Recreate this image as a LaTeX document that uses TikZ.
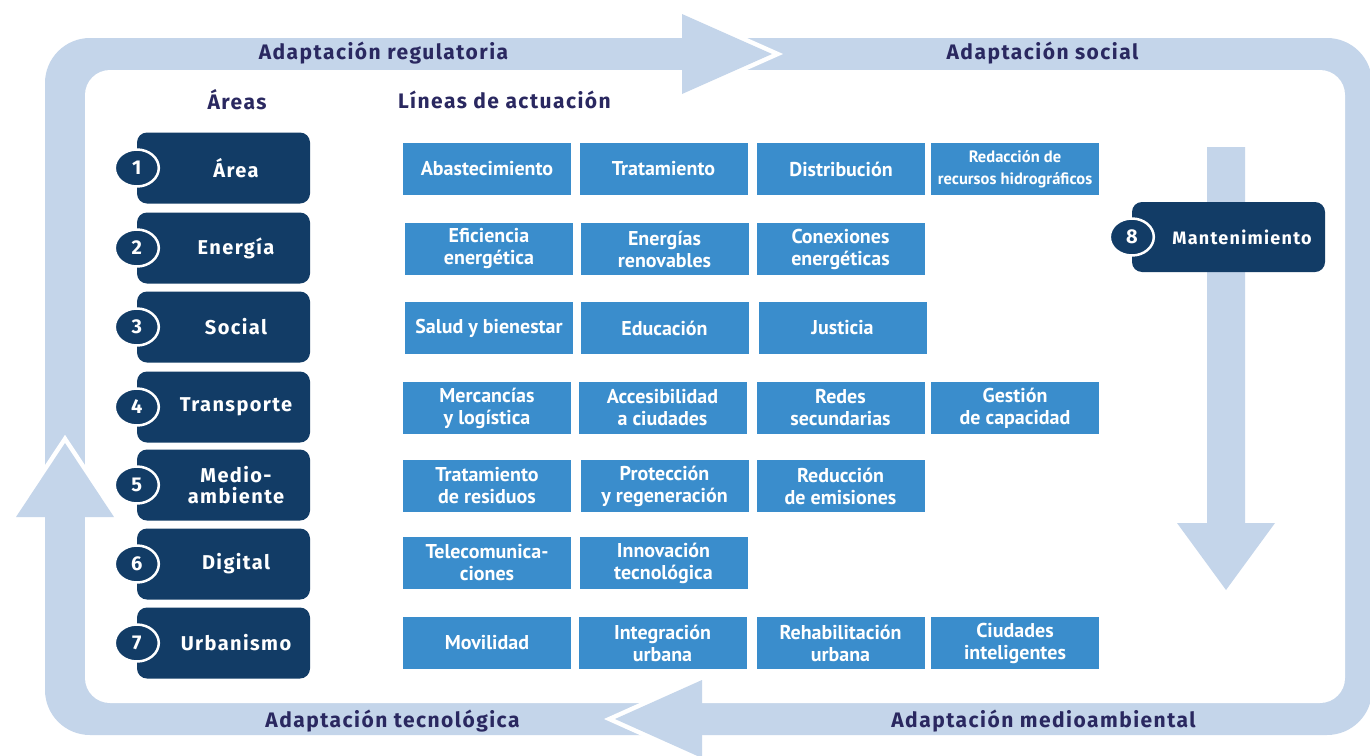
\documentclass[tikz,border=0pt]{standalone}
\usepackage{fontspec}
\usepackage{graphicx}
\setmainfont{Fira Sans}
\newfontfamily\hfont[LetterSpace=7]{Fira Sans}
\newfontfamily\bfont{PT Sans}
\usetikzlibrary{shapes.geometric}
\definecolor{band}{HTML}{C4D5EA}
\definecolor{navy}{HTML}{123C66}
\definecolor{mid}{HTML}{3A8DCC}
\definecolor{ink}{HTML}{2A2860}
\begin{document}
\begin{tikzpicture}[x=1pt,y=-1pt,
  head/.style={text=ink, font=\hfont\bfseries\fontsize{21}{24}\selectfont, inner sep=0pt},
  areabox/.style={fill=navy, rounded corners=10pt, minimum width=173pt, minimum height=71pt, inner sep=0pt},
  areatext/.style={text=white, font=\hfont\bfseries\fontsize{20}{21}\selectfont, align=center, inner sep=0pt},
  numcirc/.style={ellipse, fill=navy, draw=white, line width=2.5pt, minimum width=44pt, minimum height=37pt, inner sep=0pt, text=white, font=\bfseries\fontsize{20}{20}\selectfont},
  linebox/.style={fill=mid, minimum width=168pt, minimum height=52pt, inner sep=0pt, text=white, align=center, font=\bfont\bfseries\fontsize{20}{22}\selectfont},
  gap/.style={white, line width=9pt, line join=miter},
  arrowfill/.style={fill=band}
]
\useasboundingbox (0,0) rectangle (1370,755);
\clip (0,0) rectangle (1370,755);
\fill[white] (0,0) rectangle (1370,755);

% frame band
\fill[band, rounded corners=45pt] (45,38) rectangle (1372,735);
\fill[white, rounded corners=25pt] (85,70) rectangle (1345,703);

% top arrow (right)
\draw[gap] (682,14) -- (772,54) -- (682,94);
\fill[arrowfill] (682,14) -- (772,54) -- (682,94) -- cycle;
% bottom arrow (left)
\draw[gap] (702,680) -- (615,719) -- (702,758);
\fill[arrowfill] (702,680) -- (615,719) -- (702,758) -- cycle;
% left arrow (up)
\draw[gap] (16,517) -- (65,443) -- (114,517);
\fill[arrowfill] (16,517) -- (65,443) -- (114,517) -- cycle;
% inner down arrow
\fill[arrowfill] (1207,147) -- (1245,147) -- (1245,523) -- (1275,523) -- (1226,590) -- (1177,523) -- (1207,523) -- cycle;

% headings
\node[head] (h1) at (383.5,53) {Adaptación regulatoria};
\node[head] (h2) at (1042.5,53) {Adaptación social};
\node[head] (h3) at (392.5,721) {Adaptación tecnológica};
\node[head] (h4) at (1043.5,721) {Adaptación medioambiental};
\node[head] (h5) at (237,100) {Áreas};
\node[head] (h6) at (504.5,100) {Líneas de actuación};

% area boxes
\foreach \i/\y/\t in {1/168/Área, 2/248/Energía, 3/327/Social, 4/407/Transporte, 5/485/{Medio-\\ambiente}, 6/564/Digital, 7/643/Urbanismo}{
  \node[areabox] (a\i) at (223.5,\y) {};
  \node[areatext] (at\i) at (236,\y) {\t};
  \node[numcirc] (n\i) at (a\i.west) {\i};
}

% Mantenimiento
\node[areabox, minimum width=193pt, minimum height=70pt] (a8) at (1228.5,237) {};
\node[areatext, font=\hfont\bfseries\fontsize{18}{18}\selectfont] (at8) at (1242,237) {Mantenimiento};
\node[numcirc] (n8) at (a8.west) {8};

% lines of action
\node[linebox] (b11) at (487,169) {Abastecimiento};
\node[linebox] (b12) at (663.5,169) {Tratamiento};
\node[linebox] (b13) at (841,169) {Distribución};
\node[linebox, font=\bfont\bfseries\fontsize{16.5}{22}\selectfont] (b14) at (1015,169) {Redacción de\\recursos hidrográficos};

\node[linebox] (b21) at (489,249) {Eficiencia\\energética};
\node[linebox] (b22) at (664.5,249) {Energías\\renovables};
\node[linebox] (b23) at (840.5,249) {Conexiones\\energéticas};

\node[linebox] (b31) at (489,328) {Salud y bienestar};
\node[linebox] (b32) at (664.5,328) {Educación};
\node[linebox] (b33) at (842.5,328) {Justicia};

\node[linebox] (b41) at (487,408) {Mercancías\\y logística};
\node[linebox] (b42) at (662.5,408) {Accesibilidad\\a ciudades};
\node[linebox] (b43) at (840.5,408) {Redes\\secundarias};
\node[linebox] (b44) at (1015,408) {Gestión\\de capacidad};

\node[linebox] (b51) at (487,486) {Tratamiento\\de residuos};
\node[linebox] (b52) at (664.5,486) {Protección\\y regeneración};
\node[linebox] (b53) at (840.5,486) {Reducción\\de emisiones};

\node[linebox] (b61) at (487,563) {Telecomunica-\\ciones};
\node[linebox] (b62) at (663.5,563) {Innovación\\tecnológica};

\node[linebox] (b71) at (487,643) {Movilidad};
\node[linebox] (b72) at (662.5,643) {Integración\\urbana};
\node[linebox] (b73) at (840.5,643) {Rehabilitación\\urbana};
\node[linebox] (b74) at (1015,643) {Ciudades\\inteligentes};
\end{tikzpicture}
\end{document}
